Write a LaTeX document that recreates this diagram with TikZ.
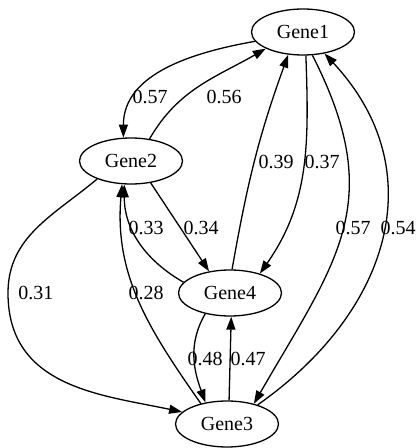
\documentclass[tikz,border=0pt]{standalone}
\usepackage{fontspec}
\setmainfont{Liberation Serif}
\usetikzlibrary{shapes.geometric,arrows.meta}

\newcommand{\genefont}{\rmfamily\fontsize{20}{24}\selectfont}

\begin{document}
\begin{tikzpicture}[
        x=1pt, y=1pt,
        gene/.style={ellipse, draw=black, line width=1.3pt, minimum width=103pt,
            minimum height=46pt, inner sep=0pt, font=\genefont},
        wt/.style={inner sep=0pt, font=\genefont},
        arr/.style={-{Triangle[length=13pt, width=9pt]}, line width=1.3pt, draw=black}
    ]
    \useasboundingbox (0,0) rectangle (418,448);

    % Genes
    \node[gene] (gene1) at (303,416) {Gene1};
    \node[gene] (gene2) at (131,287) {Gene2};
    \node[gene] (gene4) at (230,155) {Gene4};
    \node[gene] (gene3) at (227,24) {Gene3};

    % Edges
    \coordinate (bend23) at (8,155);
    \draw[arr] (gene1.191) to[out=190, in=90] (gene2.108);
    \draw[arr] (gene2.50) to[out=60, in=210] (gene1.204);
    \draw[arr] (gene4.85) to[out=80, in=250] (gene1.237);
    \draw[arr] (gene1.277) to[out=-88, in=55] (gene4.33);
    \draw[arr] (gene1.292) to[out=-63, in=60, looseness=1.2] (gene3.37);
    \draw[arr] (gene3.32) to[out=35, in=313, looseness=1.15] (gene1.315);
    \draw[arr] (gene2.312) -- (gene4.134);
    \draw[arr] (gene4.167) to[out=150, in=270] (gene2.254);
    \draw[arr] (gene2.208) to[out=220, in=90] (bend23)
        to[out=270, in=168, out looseness=1.15] (gene3.165);
    \draw[arr] (gene3.142) to[out=125, in=265] (gene2.249);
    \draw[arr] (gene4.220) to[out=240, in=110] (gene3.135);
    \draw[arr] (gene3.85) -- (gene4.273);

    % Weights
    \node[wt] (w12) at (150,351) {0.57};
    \node[wt] (w21) at (224,351) {0.56};
    \node[wt] (w41) at (276,286) {0.39};
    \node[wt] (w14) at (322,286) {0.37};
    \node[wt] (w24) at (201,220) {0.34};
    \node[wt] (w42) at (146,220) {0.33};
    \node[wt] (w13) at (353,220) {0.57};
    \node[wt] (w31) at (398,220) {0.54};
    \node[wt] (w23) at (36,155) {0.31};
    \node[wt] (w32) at (146,155) {0.28};
    \node[wt] (w43) at (205,89) {0.48};
    \node[wt] (w34) at (248,89) {0.47};
\end{tikzpicture}
\end{document}
